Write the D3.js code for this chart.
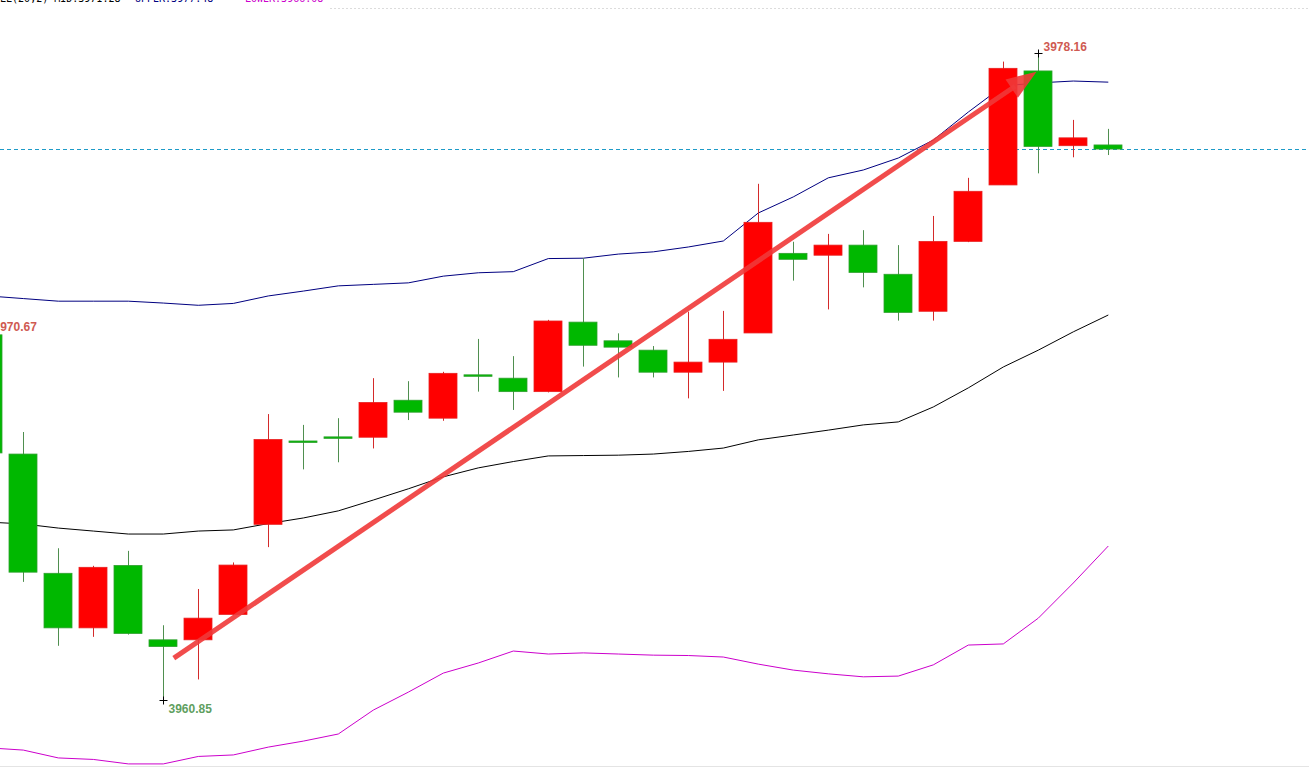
<!DOCTYPE html>
<html>
<head>
<meta charset="utf-8">
<script src="https://cdn.jsdelivr.net/npm/d3@7"></script>
<style>
  body { margin: 0; background: #fff; overflow: hidden; }
</style>
</head>
<body>
<div id="my_dataviz"></div>
<script>
// candle data (index 0 is the bar cut off at the left edge)
var opens  = [3970.62, 3967.43, 3964.24, 3962.78, 3964.45, 3962.46, 3962.46, 3963.14, 3965.55, 3967.78, 3967.89,
              3967.88, 3968.87, 3968.39, 3969.55, 3969.46, 3969.10, 3970.96, 3970.46, 3970.21, 3969.62, 3969.89,
              3970.67, 3972.80, 3972.75, 3973.02, 3972.24, 3971.25, 3973.12, 3974.63, 3977.68, 3975.68, 3975.70]
var highs  = [3970.67, 3968.02, 3964.91, 3964.44, 3964.84, 3962.85, 3963.82, 3964.53, 3968.50, 3968.21, 3968.39,
              3969.46, 3969.38, 3969.63, 3970.51, 3970.05, 3971.02, 3972.67, 3970.66, 3970.32, 3971.24, 3971.26,
              3974.66, 3973.11, 3973.32, 3973.42, 3973.02, 3973.80, 3974.82, 3977.93, 3978.16, 3976.37, 3976.13]
var lows   = [3967.38, 3964.01, 3962.30, 3962.54, 3962.60, 3960.85, 3961.40, 3963.12, 3964.94, 3967.02, 3967.21,
              3967.58, 3968.34, 3968.32, 3969.10, 3968.61, 3969.08, 3969.77, 3969.48, 3969.48, 3968.92, 3969.12,
              3970.67, 3972.07, 3971.30, 3971.89, 3971.00, 3971.00, 3973.10, 3974.63, 3974.94, 3975.37, 3975.43]
var closes = [3967.46, 3964.27, 3962.78, 3964.40, 3962.63, 3962.28, 3963.04, 3964.46, 3967.82, 3967.74, 3967.86,
              3968.81, 3968.55, 3969.59, 3969.51, 3969.10, 3970.99, 3970.34, 3970.29, 3969.62, 3969.89, 3970.50,
              3973.63, 3972.64, 3973.02, 3972.29, 3971.22, 3973.12, 3974.46, 3977.75, 3975.66, 3975.89, 3975.59]

// bollinger bands (20,2)
var upper = [3971.66, 3971.59, 3971.52, 3971.52, 3971.52, 3971.47, 3971.41, 3971.46, 3971.66, 3971.79, 3971.93,
             3971.97, 3972.01, 3972.19, 3972.28, 3972.31, 3972.66, 3972.67, 3972.78, 3972.84, 3972.97, 3973.13,
             3973.88, 3974.31, 3974.82, 3975.03, 3975.35, 3975.83, 3976.58, 3977.28, 3977.36, 3977.41, 3977.38]
var mid   = [3965.61, 3965.56, 3965.45, 3965.37, 3965.29, 3965.29, 3965.37, 3965.40, 3965.57, 3965.72, 3965.91,
             3966.20, 3966.50, 3966.82, 3967.06, 3967.23, 3967.38, 3967.39, 3967.40, 3967.43, 3967.50, 3967.59,
             3967.81, 3967.94, 3968.07, 3968.21, 3968.29, 3968.69, 3969.20, 3969.76, 3970.21, 3970.70, 3971.15]
var lower = [3959.57, 3959.51, 3959.30, 3959.26, 3959.14, 3959.14, 3959.34, 3959.38, 3959.59, 3959.75, 3959.94,
             3960.58, 3961.06, 3961.57, 3961.84, 3962.16, 3962.08, 3962.11, 3962.08, 3962.05, 3962.04, 3962.00,
             3961.81, 3961.65, 3961.55, 3961.47, 3961.49, 3961.79, 3962.32, 3962.35, 3963.04, 3963.98, 3964.97]

// header texts and marked extremes
var header = ["BOLL(20,2) MID:3971.28", "UPPER:3977.48", "LOWER:3966.08"]
var marks = [
  { i: 0, value: 3970.67, label: "3970.67", pos: "top" },
  { i: 30, value: 3978.16, label: "3978.16", pos: "top" },
  { i: 5, value: 3960.85, label: "3960.85", pos: "bottom" }
]
// trend arrow: [bar index, price]
var arrowFrom = [5.3, 3961.97]
var arrowTo = [29.95, 3977.66]

var width = 1309
var height = 769

var svg = d3.select("#my_dataviz")
    .append("svg")
    .attr("width", width)
    .attr("height", height)
    .style("display", "block")

var x = d3.scaleLinear()
    .domain([0, 32])
    .range([-11.7, 1108.3])

var y = d3.scaleLinear()
    .domain([3960.85, 3978.16])
    .range([700, 53])

var bodyW = 28

// frame lines
svg.append("line").attr("x1", 330).attr("y1", 8.5).attr("x2", width).attr("y2", 8.5)
    .style("stroke", "#dcdcdc").style("stroke-dasharray", "2,2")
svg.append("line").attr("x1", 0).attr("y1", 766.5).attr("x2", width).attr("y2", 766.5)
    .style("stroke", "#e4e4e4")

// current price line
var last = closes[closes.length - 1]
svg.append("line")
    .attr("x1", 0).attr("x2", width)
    .attr("y1", Math.round(y(last)) + 0.5).attr("y2", Math.round(y(last)) + 0.5)
    .style("stroke", "#1e9bc8")
    .style("stroke-dasharray", "4,3")

// bands
var line = d3.line()
    .x(function(d, i) { return x(i) })
    .y(function(d) { return y(d) })

var bands = [[upper, "#000080"], [mid, "#000000"], [lower, "#cc00cc"]]
bands.forEach(function(b) {
    svg.append("path")
        .datum(b[0])
        .attr("d", line)
        .style("fill", "none")
        .style("stroke", b[1])
        .style("stroke-width", 1)
})

// candles
var bars = d3.range(opens.length).map(function(i) {
    return { i: i, o: opens[i], h: highs[i], l: lows[i], c: closes[i] }
})

var candle = svg.append("g")
    .selectAll("g")
    .data(bars)
    .enter()
    .append("g")

candle.append("line")
    .attr("x1", function(d) { return Math.round(x(d.i)) + 0.5 })
    .attr("x2", function(d) { return Math.round(x(d.i)) + 0.5 })
    .attr("y1", function(d) { return y(d.h) })
    .attr("y2", function(d) { return y(d.l) })
    .style("stroke", function(d) { return d.c > d.o ? "#d42a2a" : "#4f8f4f" })
    .style("stroke-width", 1)

candle.append("rect")
    .attr("x", function(d) { return Math.round(x(d.i)) - bodyW / 2 })
    .attr("width", bodyW)
    .attr("y", function(d) { return y(Math.max(d.o, d.c)) })
    .attr("height", function(d) { return Math.max(1.5, Math.abs(y(d.o) - y(d.c))) })
    .style("fill", function(d) { return d.c > d.o ? "#ff0000" : "#00b800" })
    .style("stroke", function(d) { return d.c > d.o ? "#e82020" : "#2fa02f" })
    .style("stroke-width", 0.8)

// arrow
var ax1 = x(arrowFrom[0]), ay1 = y(arrowFrom[1])
var ax2 = x(arrowTo[0]), ay2 = y(arrowTo[1])
var ang = Math.atan2(ay2 - ay1, ax2 - ax1)
var headLen = 30, headW = 11
var bx = ax2 - headLen * Math.cos(ang), by = ay2 - headLen * Math.sin(ang)
svg.append("line")
    .attr("x1", ax1).attr("y1", ay1)
    .attr("x2", bx + 4 * Math.cos(ang)).attr("y2", by + 4 * Math.sin(ang))
    .style("stroke", "rgba(240,56,56,0.9)")
    .style("stroke-width", 5)
svg.append("path")
    .attr("d", "M" + ax2 + "," + ay2 +
        "L" + (bx + headW * Math.sin(ang)) + "," + (by - headW * Math.cos(ang)) +
        "L" + (bx - headW * Math.sin(ang)) + "," + (by + headW * Math.cos(ang)) + "Z")
    .style("fill", "rgba(240,56,56,0.9)")

// extreme markers
marks.forEach(function(m) {
    var mx = Math.round(x(m.i)) + 0.5
    var my = Math.round(y(m.value)) + 0.5
    if (m.i > 0) {
        svg.append("path")
            .attr("d", "M" + (mx - 4) + "," + my + "H" + (mx + 4) + "M" + mx + "," + (my - 4) + "V" + (my + 4))
            .style("stroke", "#000")
            .style("stroke-width", 1)
    }
    svg.append("text")
        .attr("x", mx + 5)
        .attr("y", m.pos == "top" ? my - 3 : my + 12)
        .text(m.label)
        .style("font-family", "Arial, 'Liberation Sans', sans-serif")
        .style("font-size", "12px")
        .style("font-weight", "bold")
        .style("fill", m.pos == "top" ? "#cf5a52" : "#5f9f5f")
})

// header (mostly cut off at the top)
var headerX = [-12, 135, 245]
var headerColor = ["#000000", "#000080", "#cc00cc"]
header.forEach(function(t, k) {
    svg.append("text")
        .attr("x", headerX[k])
        .attr("y", 2)
        .text(t)
        .style("font-family", "'DejaVu Sans Mono', monospace")
        .style("font-size", "10px")
        .style("fill", headerColor[k])
})
</script>
</body>
</html>
